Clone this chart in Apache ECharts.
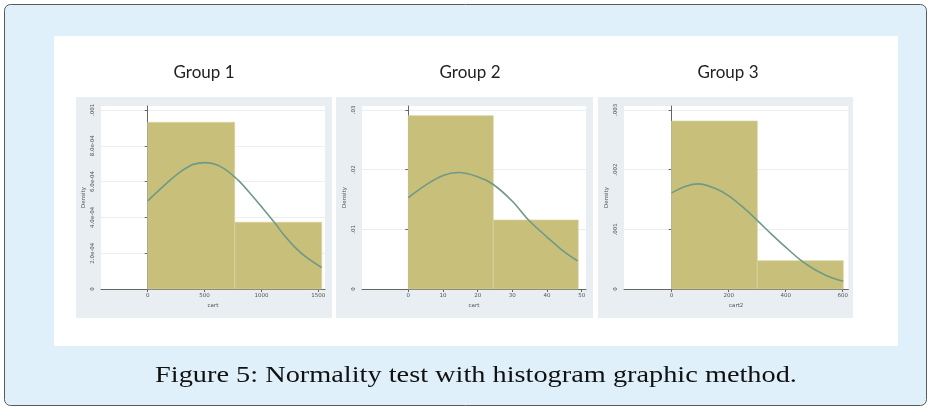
<!DOCTYPE html>
<html><head><meta charset="utf-8">
<script src="https://cdn.jsdelivr.net/npm/echarts@6/dist/echarts.min.js"></script>
<style>html,body{margin:0;padding:0;background:#fff}#c{width:931px;height:409px}</style>
</head><body><div id="c"></div>
<script>
// ---------------- data ----------------
const groupTitles = ['Group 1', 'Group 2', 'Group 3'];
const xAxisNames = ['cart', 'cart', 'cart2'];
const yAxisName = 'Density';
const caption = 'Figure 5: Normality test with histogram graphic method.';

// histogram bins (edges) and densities
const g1Edges = [0, 765, 1530];
const g1Density = [0.000931, 0.000373];
const g2Edges = [0, 24.5, 49.0];
const g2Density = [0.02903, 0.01156];
const g3Edges = [0, 300.6, 602];
const g3Density = [0.002814, 0.000474];

// normal-density overlay curves
const g1CurveX = [0, 100, 200, 300, 400, 504, 600, 700, 761, 800, 900, 1000, 1120, 1200, 1300, 1400, 1530];
const g1CurveY = [0.000492, 0.000552, 0.000610, 0.000660, 0.000696, 0.000706, 0.000695, 0.000660, 0.000627, 0.000605, 0.000535, 0.000460, 0.000367, 0.000300, 0.000230, 0.000175, 0.000120];
const g2CurveX = [0, 5, 10, 14.4, 20, 24.5, 30, 34.6, 40, 45, 48.8];
const g2CurveY = [0.0153, 0.0174, 0.0190, 0.0195, 0.0188, 0.0175, 0.0147, 0.0116, 0.0087, 0.0062, 0.0047];
const g3CurveX = [0, 50, 93.6, 150, 200, 250, 300, 350, 400, 456, 500, 550, 602];
const g3CurveY = [0.00161, 0.00172, 0.00176, 0.00169, 0.00156, 0.00137, 0.00115, 0.00092, 0.00070, 0.00047, 0.00033, 0.00021, 0.00013];

// axis ticks and labels
const g1XTicks = [0, 500, 1000, 1500];
const g2XTicks = [0, 10, 20, 30, 40, 50];
const g3XTicks = [0, 200, 400, 600];
const g1YTicks = [0, 0.0002, 0.0004, 0.0006, 0.0008, 0.001];
const g1YLabels = ['0', '2.0e-04', '4.0e-04', '6.0e-04', '8.0e-04', '.001'];
const g2YTicks = [0, 0.01, 0.02, 0.03];
const g2YLabels = ['0', '.01', '.02', '.03'];
const g3YTicks = [0, 0.001, 0.002, 0.003];
const g3YLabels = ['0', '.001', '.002', '.003'];

// ---------------- layout / styles ----------------
const panels = [
  {bg: [76, 97, 256, 221], grid: {left: 101, top: 106, width: 224, height: 183}, x: [-411, 1559], y: [0, 0.001022], yInt: 0.0002, titleX: 204},
  {bg: [336, 97, 257, 221], grid: {left: 362, top: 106, width: 224, height: 183}, x: [-13.35, 51.24], y: [0, 0.03065], yInt: 0.01, titleX: 470},
  {bg: [598, 97, 255, 221], grid: {left: 624, top: 106, width: 224.3, height: 183}, x: [-167, 619.6], y: [0, 0.003065], yInt: 0.001, titleX: 728}
];
const edges = [g1Edges, g2Edges, g3Edges];
const dens = [g1Density, g2Density, g3Density];
const curveX = [g1CurveX, g2CurveX, g3CurveX];
const curveY = [g1CurveY, g2CurveY, g3CurveY];
const xTicks = [g1XTicks, g2XTicks, g3XTicks];
const yTicks = [g1YTicks, g2YTicks, g3YTicks];
const yLabels = [g1YLabels, g2YLabels, g3YLabels];

const barColor = '#c8bf7b';
const barBorder = '#d8d2a2';
const curveColor = '#6f9a86';
const axisColor = '#666';
const labelColor = '#555';
const tinyFont = 'DejaVu Sans';

const grids = [], xAxes = [], yAxes = [], series = [];
panels.forEach((p, i) => {
  grids.push(Object.assign({show: true, backgroundColor: '#ffffff', borderWidth: 0, containLabel: false}, p.grid));
  xAxes.push({
    type: 'value', gridIndex: i, min: p.x[0], max: p.x[1],
    name: xAxisNames[i], nameLocation: 'middle', nameGap: 14,
    nameTextStyle: {fontSize: 5.5, color: labelColor, fontFamily: tinyFont},
    axisLine: {show: true, onZero: false, lineStyle: {color: axisColor, width: 1}},
    axisTick: {show: true, length: 3, lineStyle: {color: axisColor}, customValues: xTicks[i]},
    axisLabel: {fontSize: 5.5, color: labelColor, margin: 4, fontFamily: tinyFont, customValues: xTicks[i],
      formatter: v => String(Math.round(v))},
    splitLine: {show: false}
  });
  const tv = yTicks[i], tl = yLabels[i];
  yAxes.push({
    type: 'value', gridIndex: i, min: p.y[0], max: p.y[1], interval: p.yInt,
    name: yAxisName, nameLocation: 'middle', nameGap: 14, nameRotate: 90,
    nameTextStyle: {fontSize: 5.5, color: labelColor, fontFamily: tinyFont},
    axisLine: {show: true, lineStyle: {color: axisColor, width: 1}},
    axisTick: {show: true, length: 3, lineStyle: {color: axisColor}, customValues: tv},
    axisLabel: {
      fontSize: 5.5, color: labelColor, rotate: 90, margin: 5, fontFamily: tinyFont, customValues: tv,
      formatter: v => {
        let best = 0, bd = Infinity;
        tv.forEach((t, k) => { const d = Math.abs(t - v); if (d < bd) { bd = d; best = k; } });
        return tl[best];
      }
    },
    splitLine: {show: true, lineStyle: {color: '#ebeff1', width: 1}}
  });
  const hd = dens[i].map((d, k) => [edges[i][k], edges[i][k + 1], d]);
  series.push({
    type: 'custom', xAxisIndex: i, yAxisIndex: i, data: hd, encode: {x: [0, 1], y: 2}, z: 2, silent: true,
    renderItem: (params, api) => {
      const a = api.coord([api.value(0), api.value(2)]);
      const b = api.coord([api.value(1), 0]);
      return {type: 'rect', shape: {x: a[0], y: a[1], width: b[0] - a[0], height: b[1] - a[1]},
              style: {fill: barColor, stroke: barBorder, lineWidth: 0.7}};
    }
  });
  series.push({
    type: 'line', xAxisIndex: i, yAxisIndex: i, z: 3, silent: true,
    data: curveX[i].map((x, k) => [x, curveY[i][k]]),
    smooth: 0.35, showSymbol: false, symbol: 'none',
    lineStyle: {color: curveColor, width: 1.6}
  });
});

const graphic = [
  {type: 'rect', z: -20, shape: {x: 4.5, y: 4.5, width: 922, height: 401, r: 6},
   style: {fill: '#dff0fa', stroke: '#5a5a5a', lineWidth: 1}},
  {type: 'rect', z: -19, shape: {x: 54, y: 36, width: 844, height: 310}, style: {fill: '#ffffff'}},
  {type: 'text', z: 10, x: 476, y: 376, scaleX: 1.18, scaleY: 1,
   style: {x: 0, y: 0, text: caption, fill: '#111',
    font: '24px "Liberation Serif"', textAlign: 'center', textVerticalAlign: 'middle'}}
];
panels.forEach((p, i) => {
  graphic.push({type: 'rect', z: -18, shape: {x: p.bg[0], y: p.bg[1], width: p.bg[2], height: p.bg[3]},
    style: {fill: '#e8eef2'}});
  graphic.push({type: 'text', z: 10, style: {x: p.titleX, y: 73, text: groupTitles[i], fill: '#222',
    font: '17px Lato', textAlign: 'center', textVerticalAlign: 'middle'}});
});

const chart = echarts.init(document.getElementById('c'), null, {renderer: 'canvas'});
chart.setOption({
  animation: false,
  backgroundColor: '#ffffff',
  grid: grids, xAxis: xAxes, yAxis: yAxes, series: series, graphic: graphic
});
</script></body></html>
